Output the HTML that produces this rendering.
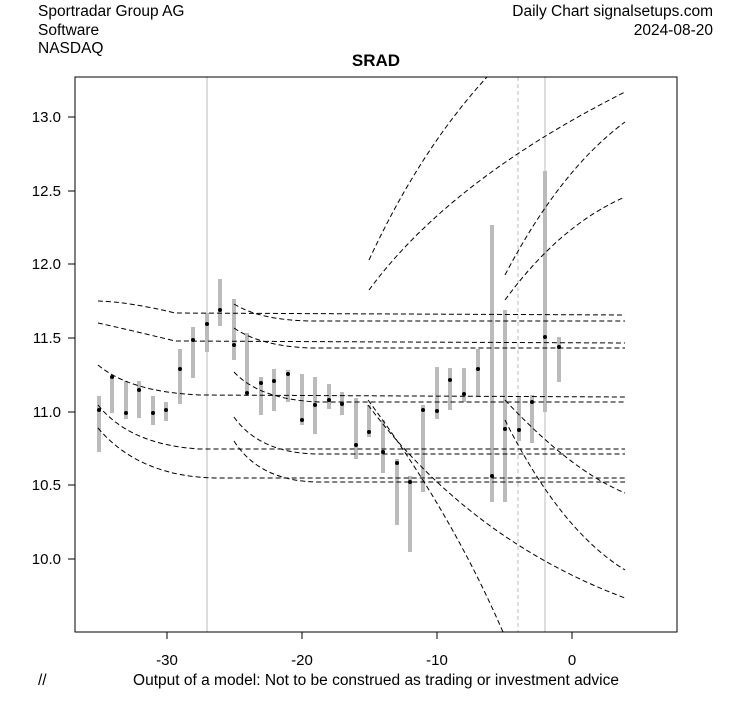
<!DOCTYPE html>
<html><head><style>body{margin:0;background:#fff}svg text{font-family:"Liberation Sans",Arial,sans-serif}</style></head><body>
<svg width="753" height="708" xmlns="http://www.w3.org/2000/svg">
<rect width="753" height="708" fill="#fff"/>
<text x="38" y="16" font-size="15.5">Sportradar Group AG</text>
<text x="38" y="35" font-size="15.5">Software</text>
<text x="38" y="53" font-size="15.5">NASDAQ</text>
<text x="713" y="16" font-size="15.5" text-anchor="end">Daily Chart signalsetups.com</text>
<text x="713" y="35" font-size="15.5" text-anchor="end">2024-08-20</text>
<text x="376" y="66" font-size="17" font-weight="bold" text-anchor="middle">SRAD</text>
<g stroke="#bbb" stroke-width="1">
<line x1="207" y1="77" x2="207" y2="632"/>
<line x1="545" y1="77" x2="545" y2="632"/>
<line x1="518" y1="77" x2="518" y2="632" stroke-dasharray="4,3"/>
</g>
<g stroke="#bbb" stroke-width="4">
<line x1="99" y1="396" x2="99" y2="452"/><line x1="112" y1="376" x2="112" y2="413"/><line x1="126" y1="381" x2="126" y2="419"/><line x1="139" y1="381" x2="139" y2="418"/><line x1="153" y1="396" x2="153" y2="425"/><line x1="166" y1="402" x2="166" y2="421"/><line x1="180" y1="349" x2="180" y2="404"/><line x1="193" y1="327" x2="193" y2="378"/><line x1="207" y1="313" x2="207" y2="352"/><line x1="220" y1="279" x2="220" y2="326"/><line x1="234" y1="299" x2="234" y2="360"/><line x1="247" y1="333" x2="247" y2="394"/><line x1="261" y1="377" x2="261" y2="415"/><line x1="274" y1="369" x2="274" y2="411"/><line x1="288" y1="370" x2="288" y2="402"/><line x1="302" y1="374" x2="302" y2="425"/><line x1="315" y1="377" x2="315" y2="434"/><line x1="329" y1="384" x2="329" y2="409"/><line x1="342" y1="392" x2="342" y2="415"/><line x1="356" y1="398" x2="356" y2="459"/><line x1="369" y1="405" x2="369" y2="437"/><line x1="383" y1="420" x2="383" y2="473"/><line x1="397" y1="459" x2="397" y2="525"/><line x1="410" y1="476" x2="410" y2="552"/><line x1="423" y1="405" x2="423" y2="492"/><line x1="437" y1="367" x2="437" y2="419"/><line x1="450" y1="368" x2="450" y2="410"/><line x1="464" y1="368" x2="464" y2="402"/><line x1="478" y1="349" x2="478" y2="397"/><line x1="492" y1="225" x2="492" y2="502"/><line x1="505" y1="310" x2="505" y2="502"/><line x1="519" y1="396" x2="519" y2="441"/><line x1="532" y1="395" x2="532" y2="443"/><line x1="545" y1="171" x2="545" y2="412"/><line x1="559" y1="337" x2="559" y2="382"/>
</g>
<g fill="#000">
<circle cx="99" cy="410" r="2"/><circle cx="112" cy="377" r="2"/><circle cx="126" cy="413" r="2"/><circle cx="139" cy="390" r="2"/><circle cx="153" cy="413" r="2"/><circle cx="166" cy="410" r="2"/><circle cx="180" cy="369" r="2"/><circle cx="193" cy="340" r="2"/><circle cx="207" cy="324" r="2"/><circle cx="220" cy="310" r="2"/><circle cx="234" cy="345" r="2"/><circle cx="247" cy="393" r="2"/><circle cx="261" cy="383" r="2"/><circle cx="274" cy="381" r="2"/><circle cx="288" cy="374" r="2"/><circle cx="302" cy="420" r="2"/><circle cx="315" cy="405" r="2"/><circle cx="329" cy="400" r="2"/><circle cx="342" cy="404" r="2"/><circle cx="356" cy="445" r="2"/><circle cx="369" cy="432" r="2"/><circle cx="383" cy="452" r="2"/><circle cx="397" cy="463" r="2"/><circle cx="410" cy="482" r="2"/><circle cx="423" cy="410" r="2"/><circle cx="437" cy="411" r="2"/><circle cx="450" cy="380" r="2"/><circle cx="464" cy="394" r="2"/><circle cx="478" cy="369" r="2"/><circle cx="492" cy="476" r="2"/><circle cx="505" cy="429" r="2"/><circle cx="519" cy="430" r="2"/><circle cx="532" cy="402" r="2"/><circle cx="545" cy="337" r="2"/><circle cx="559" cy="347" r="2"/>
</g>
<g fill="none" stroke="#000" stroke-width="1" stroke-dasharray="5,3">
<path d="M98 301 Q130 302 175 313 L625 315"/>
<path d="M98 323 Q130 330 175 341 L625 343"/>
<path d="M98 365 Q130 392 200 395 L625 397"/>
<path d="M98 405 Q130 445 200 449 L625 449"/>
<path d="M98 428 Q140 478 220 478 L625 478"/>
<path d="M234 304 Q260 320 310 321 L625 321"/>
<path d="M234 328 Q260 346 310 348 L625 348"/>
<path d="M234 372 Q260 400 320 402 L625 402"/>
<path d="M234 417 Q260 454 320 454 L625 454"/>
<path d="M234 441 Q260 482 320 482 L625 482"/>
<path d="M369 260 Q420 150 487 77"/>
<path d="M369 290 Q450 180 625 92"/>
<path d="M505 275 Q560 170 625 122"/>
<path d="M505 300 Q560 225 625 197"/>
<path d="M368 400 Q450 510 503 632"/>
<path d="M368 405 Q470 540 625 598"/>
<path d="M505 400 Q570 470 625 493"/>
<path d="M505 420 Q560 530 625 570"/>
</g>
<rect x="75" y="77" width="602" height="555" fill="none" stroke="#000"/>
<g stroke="#000">
<line x1="167" y1="632" x2="167" y2="639"/><line x1="302" y1="632" x2="302" y2="639"/><line x1="437" y1="632" x2="437" y2="639"/><line x1="572" y1="632" x2="572" y2="639"/>
<line x1="68" y1="117" x2="75" y2="117"/><line x1="68" y1="191" x2="75" y2="191"/><line x1="68" y1="264" x2="75" y2="264"/><line x1="68" y1="338" x2="75" y2="338"/><line x1="68" y1="412" x2="75" y2="412"/><line x1="68" y1="485" x2="75" y2="485"/><line x1="68" y1="559" x2="75" y2="559"/>
</g>
<g font-size="15" text-anchor="end">
<text x="61" y="122">13.0</text><text x="61" y="196">12.5</text><text x="61" y="269">12.0</text><text x="61" y="343">11.5</text><text x="61" y="417">11.0</text><text x="61" y="490">10.5</text><text x="61" y="564">10.0</text>
</g>
<g font-size="15" text-anchor="middle">
<text x="167" y="665">-30</text><text x="302" y="665">-20</text><text x="437" y="665">-10</text><text x="572" y="665">0</text>
</g>
<text x="38" y="685" font-size="15.5">//</text>
<text x="376" y="685" font-size="15.5" text-anchor="middle">Output of a model: Not to be construed as trading or investment advice</text>
</svg>
</body></html>
